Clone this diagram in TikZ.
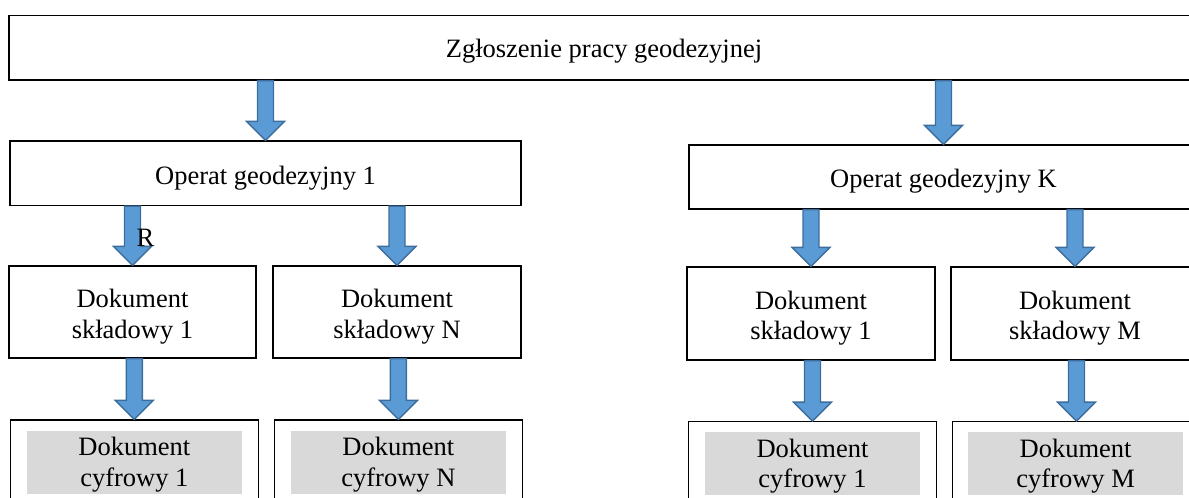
\documentclass[tikz,border=0pt]{standalone}
\usepackage{fontspec}
\setmainfont{Liberation Serif}
\usetikzlibrary{calc}
\definecolor{arrfill}{HTML}{5B9BD5}
\definecolor{arrline}{HTML}{3D6D9C}
\definecolor{shade}{HTML}{D9D9D9}
\newcommand\blockarr[2]{%
  \draw[barrow] let \p1=(#2.north), \p2=(#1.south) in
    (\x1-8pt,\y2) -- (\x1+8pt,\y2) -- (\x1+8pt,\y1+19pt) -- (\x1+19pt,\y1+19pt)
    -- (\x1,\y1) -- (\x1-19pt,\y1+19pt) -- (\x1-8pt,\y1+19pt) -- cycle;}
\begin{document}
\begin{tikzpicture}[x=1pt,y=-1pt,
  box/.style={draw=black, line width=1.3pt, rectangle, inner sep=0pt},
  txt/.style={inner sep=0pt, font=\fontsize{26.5pt}{30.5pt}\selectfont, align=center, text=black},
  shadebox/.style={fill=shade, inner sep=0pt, minimum width=215pt, minimum height=63pt},
  barrow/.style={fill=arrfill, draw=arrline, line width=1.4pt, line join=miter}
]
\useasboundingbox (0,0) rectangle (1189,498);
\clip (0,0) rectangle (1189,498);

% boxes
\node[box, minimum width=1190pt, minimum height=64.5pt] (zg) at (604,47.75) {};
\node[box, minimum width=511pt, minimum height=64.5pt] (op1) at (265.5,173.25) {};
\node[box, minimum width=509pt, minimum height=64pt] (opK) at (943.5,177) {};

\node[box, minimum width=247pt, minimum height=92pt] (s1) at (132.5,312) {};
\node[box, minimum width=248pt, minimum height=92pt] (sN) at (397,312) {};
\node[box, minimum width=248pt, minimum height=93pt] (sK1) at (811,313.5) {};
\node[box, minimum width=248pt, minimum height=93pt] (sM) at (1075,313.5) {};

\node[box, minimum width=248pt, minimum height=90pt] (c1) at (134.3,465) {};
\node[box, minimum width=248pt, minimum height=90pt] (cN) at (398.4,465) {};
\node[box, minimum width=248pt, minimum height=90pt] (cK1) at (812.5,466.7) {};
\node[box, minimum width=248pt, minimum height=90pt] (cM) at (1076.5,466.7) {};

\node[shadebox] (g1) at (134.35,462.5) {};
\node[shadebox] (gN) at (398.4,462.5) {};
\node[shadebox] (gK1) at (812.5,463.85) {};
\node[shadebox] (gM) at (1075.6,463.85) {};

% texts
\node[txt, anchor=base] (tzg) at ([yshift=-9.8pt]zg.center) {Zgłoszenie pracy geodezyjnej};
\node[txt, anchor=base] (top1) at ([yshift=-10.8pt]op1.center) {Operat geodezyjny 1};
\node[txt, anchor=base] (topK) at ([yshift=-10.8pt]opK.center) {Operat geodezyjny K};

\node[txt] (ts1) at ([yshift=-4.8pt]s1.center) {Dokument\\składowy 1};
\node[txt] (tsN) at ([yshift=-4.8pt]sN.center) {Dokument\\składowy N};
\node[txt] (tsK1) at ([yshift=-4.8pt]sK1.center) {Dokument\\składowy 1};
\node[txt] (tsM) at ([yshift=-4.8pt]sM.center) {Dokument\\składowy M};

\node[txt] (tg1) at ([yshift=-2.3pt]g1.center) {Dokument\\cyfrowy 1};
\node[txt] (tgN) at ([yshift=-2.3pt]gN.center) {Dokument\\cyfrowy N};
\node[txt] (tgK1) at ([yshift=-2.3pt]gK1.center) {Dokument\\cyfrowy 1};
\node[txt] (tgM) at ([yshift=-2.3pt]gM.center) {Dokument\\cyfrowy M};

% arrows
\blockarr{zg}{op1}
\blockarr{zg}{opK}
\blockarr{op1}{s1}
\blockarr{op1}{sN}
\blockarr{opK}{sK1}
\blockarr{opK}{sM}
\blockarr{s1}{c1}
\blockarr{sN}{cN}
\blockarr{sK1}{cK1}
\blockarr{sM}{cM}

\node[txt, anchor=base west] (r) at (136.5,246.7) {R};
\end{tikzpicture}
\end{document}
